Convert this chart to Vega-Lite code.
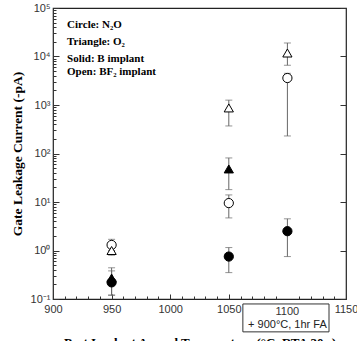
{
  "$schema": "https://vega.github.io/schema/vega-lite/v6.json",
  "width": 293,
  "height": 291,
  "autosize": "none",
  "padding": {"left": 53, "top": 8, "right": 11, "bottom": 42},
  "background": "white",
  "config": {
    "view": {"stroke": "#222", "strokeWidth": 1.2},
    "axis": {"labelFont": "Liberation Sans", "labelFontSize": 11, "labelColor": "#333", "domain": false, "grid": false, "tickColor": "#333", "labelFlush": false, "labelOverlap": false, "labelBound": false}
  },
  "datasets": {
    "pts": [
      {"temp": 950, "oxide": "N2O", "implant": "BF2", "val": 1.3, "lo": 1.0, "hi": 1.7},
      {"temp": 950, "oxide": "O2", "implant": "BF2", "val": 1.0, "lo": 0.8, "hi": 1.2},
      {"temp": 950, "oxide": "O2", "implant": "B", "val": 0.27, "lo": 0.12, "hi": 0.44},
      {"temp": 950, "oxide": "N2O", "implant": "B", "val": 0.22, "lo": 0.12, "hi": 0.38},
      {"temp": 1050, "oxide": "O2", "implant": "BF2", "val": 870, "lo": 370, "hi": 1260},
      {"temp": 1050, "oxide": "O2", "implant": "B", "val": 48, "lo": 18, "hi": 81},
      {"temp": 1050, "oxide": "N2O", "implant": "BF2", "val": 9.5, "lo": 4.7, "hi": 14},
      {"temp": 1050, "oxide": "N2O", "implant": "B", "val": 0.75, "lo": 0.35, "hi": 1.15},
      {"temp": 1100, "oxide": "O2", "implant": "BF2", "val": 11800, "lo": 6600, "hi": 19000},
      {"temp": 1100, "oxide": "N2O", "implant": "BF2", "val": 3600, "lo": 230, "hi": 4500},
      {"temp": 1100, "oxide": "N2O", "implant": "B", "val": 2.5, "lo": 0.75, "hi": 4.5}
    ],
    "notes": [
      {"x": 912, "y": 44000, "t": "Circle: N₂O"},
      {"x": 912, "y": 19500, "t": "Triangle: O₂"},
      {"x": 912, "y": 9000, "t": "Solid: B implant"},
      {"x": 912, "y": 4900, "t": "Open: BF₂ implant"}
    ]
  },
  "resolve": {"axis": {"x": "independent", "y": "independent"}},
  "layer": [
    {
      "data": {"name": "pts"},
      "mark": {"type": "errorbar", "ticks": {"size": 7, "color": "#666"}, "rule": {"color": "#666", "strokeWidth": 1}},
      "encoding": {
        "x": {"field": "temp", "type": "quantitative", "scale": {"domain": [900, 1150]}, "axis": null},
        "y": {"field": "lo", "type": "quantitative", "scale": {"type": "log", "domain": [0.1, 100000]}, "axis": null},
        "y2": {"field": "hi"}
      }
    },
    {
      "data": {"name": "pts"},
      "mark": {"type": "point", "filled": false, "size": 85, "stroke": "black", "strokeWidth": 1, "opacity": 1},
      "encoding": {
        "x": {"field": "temp", "type": "quantitative", "scale": {"domain": [900, 1150]}, "axis": null},
        "y": {"field": "val", "type": "quantitative", "scale": {"type": "log", "domain": [0.1, 100000]},
          "axis": {"orient": "left", "values": [0.1, 1, 10, 100, 1000, 10000, 100000], "tickSize": -6, "labelPadding": 9,
            "labelExpr": "datum.value < 0.5 ? '10⁻¹' : datum.value < 5 ? '10⁰' : datum.value < 50 ? '10¹' : datum.value < 500 ? '10²' : datum.value < 5000 ? '10³' : datum.value < 50000 ? '10⁴' : '10⁵'",
            "title": "Gate Leakage Current (-pA)", "titleFont": "Liberation Serif", "titleFontSize": 13.5, "titleFontWeight": "bold", "titleColor": "black", "titlePadding": 6}},
        "shape": {"field": "oxide", "type": "nominal", "scale": {"domain": ["N2O", "O2"], "range": ["circle", "triangle-up"]}, "legend": null},
        "fill": {"field": "implant", "type": "nominal", "scale": {"domain": ["B", "BF2"], "range": ["black", "white"]}, "legend": null}
      }
    },
    {
      "data": {"name": "notes"},
      "mark": {"type": "text", "align": "left", "baseline": "middle", "font": "Liberation Serif", "fontSize": 11, "fontWeight": "bold", "color": "black"},
      "encoding": {
        "x": {"field": "x", "type": "quantitative", "scale": {"domain": [900, 1150]},
          "axis": {"orient": "bottom", "values": [910, 920, 930, 940, 960, 970, 980, 990, 1010, 1020, 1030, 1040, 1060, 1070, 1080, 1090, 1110, 1120, 1130, 1140], "tickSize": -3, "labels": false, "title": null}},
        "y": {"field": "y", "type": "quantitative", "scale": {"type": "log", "domain": [0.1, 100000]},
          "axis": {"orient": "left", "values": [0.2, 0.3, 0.4, 0.5, 0.6, 0.7, 0.8, 0.9, 2, 3, 4, 5, 6, 7, 8, 9, 20, 30, 40, 50, 60, 70, 80, 90, 200, 300, 400, 500, 600, 700, 800, 900, 2000, 3000, 4000, 5000, 6000, 7000, 8000, 9000, 20000, 30000, 40000, 50000, 60000, 70000, 80000, 90000], "tickSize": -3, "labels": false, "title": null}},
        "text": {"field": "t"}
      }
    },
    {
      "data": {"name": "notes"},
      "mark": {"type": "point", "opacity": 0},
      "encoding": {
        "x": {"field": "x", "type": "quantitative", "scale": {"domain": [900, 1150]},
          "axis": {"orient": "bottom", "values": [900, 950, 1000, 1050, 1150], "format": "d", "tickSize": -5, "labelPadding": 9,
            "title": "Post Implant Anneal Temperature (°C, RTA 30 s)", "titleFont": "Liberation Serif", "titleFontSize": 13, "titleFontWeight": "bold", "titleColor": "black", "titlePadding": 22}},
        "y": {"field": "y", "type": "quantitative", "scale": {"type": "log", "domain": [0.1, 100000]},
          "axis": {"orient": "right", "values": [0.1, 1, 10, 100, 1000, 10000, 100000], "tickSize": -6, "labels": false, "title": null}}
      }
    },
    {
      "data": {"values": [{}]},
      "mark": {"type": "rect", "fill": "white", "stroke": "#333", "strokeWidth": 1},
      "encoding": {
        "x": {"datum": 1062, "type": "quantitative", "scale": {"domain": [900, 1150]}, "axis": null},
        "x2": {"datum": 1135.5},
        "y": {"datum": 0.079, "type": "quantitative", "scale": {"type": "log", "domain": [0.1, 100000]}, "axis": null},
        "y2": {"datum": 0.021}
      }
    },
    {
      "data": {"values": [{}]},
      "mark": {"type": "text", "align": "center", "baseline": "middle", "font": "Liberation Sans", "fontSize": 11, "color": "#333"},
      "encoding": {
        "x": {"datum": 1100, "type": "quantitative", "scale": {"domain": [900, 1150]}, "axis": null},
        "y": {"datum": 0.0552, "type": "quantitative", "scale": {"type": "log", "domain": [0.1, 100000]}, "axis": null},
        "text": {"value": "1100"}
      }
    },
    {
      "data": {"values": [{}]},
      "mark": {"type": "text", "align": "center", "baseline": "middle", "font": "Liberation Sans", "fontSize": 11, "color": "#222"},
      "encoding": {
        "x": {"datum": 1100, "type": "quantitative", "scale": {"domain": [900, 1150]}, "axis": null},
        "y": {"datum": 0.0298, "type": "quantitative", "scale": {"type": "log", "domain": [0.1, 100000]}, "axis": null},
        "text": {"value": "+ 900°C, 1hr FA"}
      }
    }
  ]
}
